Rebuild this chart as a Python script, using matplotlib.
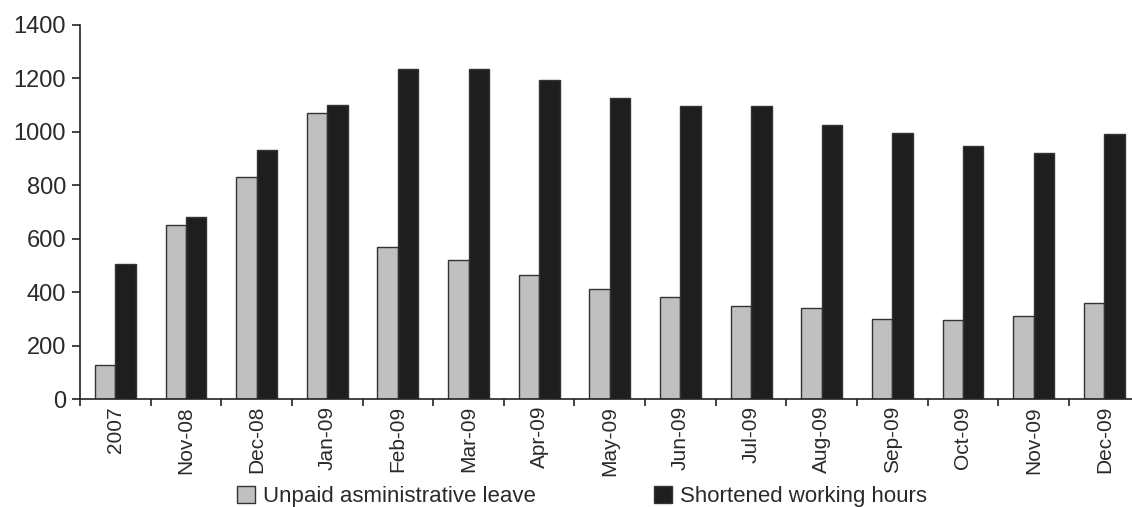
import numpy as np
import matplotlib.pyplot as plt
from matplotlib.patches import Patch

months = ['2007', 'Nov-08', 'Dec-08', 'Jan-09', 'Feb-09', 'Mar-09', 'Apr-09', 'May-09',
          'Jun-09', 'Jul-09', 'Aug-09', 'Sep-09', 'Oct-09', 'Nov-09', 'Dec-09']
unpaid_leave = [128, 650, 830, 1072, 568, 520, 465, 413, 383, 348, 342, 298, 296, 311, 358]
short_hours = [507, 680, 930, 1100, 1235, 1233, 1193, 1125, 1095, 1097, 1027, 997, 948, 920, 993]

plt.rcParams['font.family'] = ['Liberation Sans', 'DejaVu Sans']
txt = '#2a2a2a'

fig = plt.figure(figsize=(11.32, 5.07), dpi=100)
ax = fig.add_axes([0.0707, 0.213, 0.936, 0.738])

x = np.arange(len(months))
w = 0.29
ax.bar(x - w / 2, unpaid_leave, w, color='#c0c0c0', edgecolor='#333333', linewidth=1)
ax.bar(x + w / 2, short_hours, w, color='#1e1e1e', edgecolor='#333333', linewidth=1)

ax.set_xlim(-0.5, len(months) - 0.5)
ax.set_ylim(0, 1400)
ax.set_yticks(range(0, 1401, 200))
ax.tick_params(axis='y', labelsize=17, direction='out', length=6, width=1.2,
               color='#222222', labelcolor=txt, pad=4)

# category labels in the middle, ticks on the boundaries between groups
ax.set_xticks(x)
ax.set_xticklabels(months, rotation=90, fontsize=15, color=txt)
ax.tick_params(axis='x', which='major', length=0, pad=5)
ax.set_xticks(np.arange(-0.5, len(months), 1), minor=True)
ax.tick_params(axis='x', which='minor', length=5, width=1.2, direction='out', color='#222222')

for side in ['top', 'right']:
    ax.spines[side].set_visible(False)
for side in ['left', 'bottom']:
    ax.spines[side].set_linewidth(1.2)
    ax.spines[side].set_color('#222222')

handles = [Patch(facecolor='#c0c0c0', edgecolor='#333333', label='Unpaid asministrative leave'),
           Patch(facecolor='#1e1e1e', edgecolor='#333333', label='Shortened working hours')]
fig.legend(handles=handles, loc='lower left', bbox_to_anchor=(0.192, -0.04), ncol=2,
           frameon=False, fontsize=16, handlelength=0.8, handleheight=0.8,
           handletextpad=0.36, columnspacing=5.3, labelcolor=txt)

fig.savefig('out.png', dpi=100)
